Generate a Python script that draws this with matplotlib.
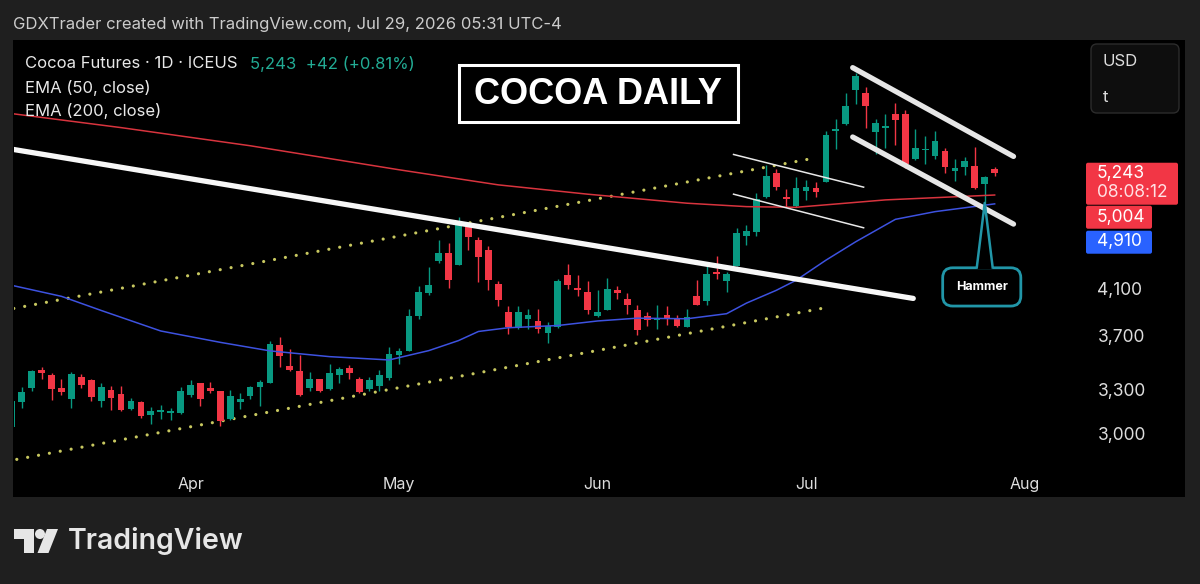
import numpy as np
import pandas as pd
import matplotlib
matplotlib.use("Agg")
import matplotlib.pyplot as plt
from matplotlib.patches import Rectangle, FancyBboxPatch, Polygon, Circle
from matplotlib.ticker import FixedLocator, NullLocator

plt.rcParams['font.family'] = ['Inter', 'DejaVu Sans']

# daily candles, trading day 0 = Mar 6 2026 ... 99 = Jul 29 2026
opens = [3045, 3209, 3308, 3442, 3406, 3310, 3233, 3386, 3367, 3221,
         3298, 3266, 3166, 3214, 3124, 3145, 3138, 3136, 3261, 3343,
         3307, 3286, 3096, 3214, 3255, 3320, 3346, 3631, 3473, 3435,
         3310, 3374, 3303, 3406, 3454, 3374, 3303, 3327, 3381, 3555,
         3586, 3860, 4056, 4343, 4415, 4309, 4668, 4544, 4447, 4139,
         3894, 3762, 3834, 3819, 3722, 3776, 4214, 4104, 4065, 3862,
         3908, 4080, 4001, 3914, 3862, 3825, 3872, 3839, 3776, 4030,
         3984, 4245, 4160, 4296, 4583, 4625, 4986, 5244, 4979, 4892,
         5052, 5077, 5143, 5745, 5831, 6260, 6229, 5727, 5782, 5954,
         5954, 5408, 5506, 5443, 5502, 5263, 5313, 5327, 5124, 5290]
highs = [3225, 3314, 3440, 3466, 3420, 3378, 3428, 3408, 3374, 3343,
         3327, 3322, 3240, 3221, 3179, 3195, 3168, 3320, 3367, 3343,
         3350, 3291, 3296, 3272, 3327, 3369, 3662, 3691, 3599, 3554,
         3422, 3374, 3484, 3464, 3479, 3386, 3391, 3440, 3611, 3607,
         3919, 4115, 4285, 4544, 4518, 4771, 4710, 4570, 4485, 4160,
         3943, 3943, 3919, 3919, 3809, 4184, 4321, 4214, 4163, 4086,
         4190, 4115, 4060, 3952, 3891, 3952, 3943, 3872, 3924, 4169,
         4321, 4390, 4245, 4659, 4692, 5031, 5337, 5293, 5066, 5205,
         5169, 5150, 5735, 5890, 6229, 6493, 6304, 5890, 5954, 6097,
         6009, 5768, 5683, 5735, 5533, 5404, 5427, 5540, 5214, 5311]
lows = [3040, 3168, 3286, 3374, 3226, 3261, 3168, 3310, 3221, 3181,
        3159, 3152, 3161, 3107, 3067, 3100, 3090, 3130, 3244, 3187,
        3272, 3052, 3090, 3163, 3233, 3187, 3346, 3459, 3430, 3251,
        3291, 3279, 3298, 3343, 3374, 3272, 3291, 3291, 3369, 3487,
        3580, 3835, 4037, 4326, 4104, 4309, 4447, 4154, 4086, 3949,
        3717, 3758, 3758, 3722, 3643, 3763, 4095, 4027, 3880, 3853,
        3908, 4007, 3880, 3709, 3781, 3758, 3789, 3776, 3768, 3952,
        3952, 4178, 4065, 4296, 4494, 4583, 4969, 5059, 4872, 4882,
        4952, 4979, 5143, 5522, 5819, 6087, 5777, 5463, 5533, 5574,
        5301, 5388, 5350, 5404, 5245, 5161, 5225, 5066, 4920, 5213]
closes = [3221, 3279, 3435, 3416, 3300, 3279, 3408, 3334, 3248, 3320,
          3242, 3161, 3221, 3117, 3154, 3157, 3150, 3286, 3334, 3233,
          3291, 3085, 3255, 3230, 3314, 3355, 3635, 3548, 3441, 3263,
          3378, 3291, 3416, 3447, 3418, 3284, 3369, 3403, 3561, 3580,
          3860, 4063, 4124, 4415, 4169, 4703, 4576, 4384, 4175, 3993,
          3776, 3894, 3872, 3758, 3781, 4160, 4124, 4086, 3908, 3891,
          4094, 4060, 3952, 3744, 3825, 3834, 3834, 3781, 3853, 3952,
          4221, 4225, 4225, 4616, 4632, 4959, 5214, 5095, 4959, 5077,
          5088, 5034, 5690, 5764, 6052, 6459, 6052, 5840, 5802, 5881,
          5347, 5534, 5522, 5614, 5319, 5301, 5377, 5084, 5201, 5243]

# EMA values at some candles
ema50_i = [0, 5, 9, 15, 21, 26, 32, 38, 42, 45, 47, 50, 55, 59, 63, 68, 72, 74, 77, 79, 82, 85, 89, 93, 99]
ema50_v = [4124, 4028, 3908, 3740, 3650, 3584, 3540, 3515, 3586, 3664, 3736, 3766, 3784, 3821, 3844,
           3839, 3881, 3970, 4080, 4169, 4352, 4527, 4750, 4829, 4910]
ema200_i = [0, 11, 24, 39, 49, 58, 68, 74, 79, 88, 99]
ema200_v = [5957, 5781, 5561, 5282, 5114, 5013, 4917, 4881, 4874, 4952, 5004]

# drawings: (start idx, start price, end idx, end price)
trend_main = (0, 5520, 90.8, 4010)
chan_dots = [(0.2, 3925, 80.9, 5417), (0.5, 2841, 81.9, 3930)]
flag_thin = [(72.7, 5458, 85.8, 5089), (72.7, 5013, 85.8, 4665)]
chan_down = [(84.7, 6573, 100.9, 5435), (84.7, 5666, 100.9, 4702)]

yticks = [3000, 3300, 3700, 4100]
month_names = ['Apr', 'May', 'Jun', 'Jul', 'Aug']
holidays = ['2026-04-03', '2026-05-25', '2026-06-19', '2026-07-03']

days = pd.bdate_range('2026-03-06', '2026-08-14')
days = days[~days.isin(pd.to_datetime(holidays))]
month_pos = [int(np.argmax(days.month == m)) for m in [4, 5, 6, 7, 8]]

W, H = 1200, 584
UP, DOWN = '#089981', '#f23645'

fig = plt.figure(figsize=(12, 5.84), dpi=100, facecolor='#1f1f1f')
bg = fig.add_axes([0, 0, 1, 1], zorder=0)
bg.set_xlim(0, W); bg.set_ylim(H, 0); bg.axis('off')
bg.add_patch(Rectangle((13, 40), 1172, 457, facecolor='black', edgecolor='none'))

ax = fig.add_axes([14 / W, 1 - 462 / H, (1085 - 14) / W, (462 - 40) / H], zorder=1)
ax.set_facecolor('black')
ax.set_yscale('log')
ax.set_xlim(0.22, 108.1)
ax.set_ylim(2825, 6974)
for s in ax.spines.values():
    s.set_visible(False)

x = np.arange(len(closes))
o = np.array(opens); c = np.array(closes)
colors = [UP if cc >= oo else DOWN for oo, cc in zip(o, c)]
ax.vlines(x, lows, highs, colors=colors, lw=1.0, zorder=3)
bot = np.minimum(o, c)
hgt = np.maximum(np.abs(c - o), bot * 0.0025)
ax.bar(x, hgt, bottom=bot, width=0.68, color=colors, lw=0, zorder=3)

ax.plot(ema200_i, ema200_v, color='#d8343e', lw=1.1, zorder=3.5)
ax.plot(ema50_i, ema50_v, color='#3d52e0', lw=1.1, zorder=3.5)

for x0, p0, x1, p1 in chan_dots:
    ax.plot([x0, x1], [p0, p1], color='#c8c860', lw=2.3, ls=(0, (0.01, 3.45)),
            dash_capstyle='round', zorder=2.5)
ax.plot(trend_main[::2], trend_main[1::2], color='#f7f7f7', lw=3.8,
        solid_capstyle='round', zorder=4)
for x0, p0, x1, p1 in flag_thin:
    ax.plot([x0, x1], [p0, p1], color='#e8e8e8', lw=1.1, zorder=4)
for x0, p0, x1, p1 in chan_down:
    ax.plot([x0, x1], [p0, p1], color='#e6e6e6', lw=3.8,
            solid_capstyle='round', zorder=4)

# hammer callout
TEAL = '#2196a8'
ax.text(97.7, 4110, 'Hammer', ha='center', va='center', fontsize=9, fontweight='bold',
        color='white', zorder=5,
        bbox=dict(boxstyle='round,pad=1.05,rounding_size=0.8', fc='black', ec=TEAL, lw=2))
ax.add_patch(Polygon([(97.2, 4270), (98, lows[98]), (98.8, 4270)], closed=True,
                     fc='black', ec='none', zorder=6))
ax.plot([97.2, 98, 98.8], [4285, lows[98], 4285], color=TEAL, lw=1.8, zorder=7)

ax.xaxis.set_major_locator(FixedLocator(month_pos))
ax.set_xticklabels(month_names)
ax.yaxis.set_major_locator(FixedLocator(yticks))
ax.yaxis.set_minor_locator(NullLocator())
ax.set_yticklabels([f'{v:,}' for v in yticks])
ax.tick_params(axis='x', length=0, colors='#dddddd', labelsize=11.5, pad=11)
ax.tick_params(axis='y', length=0, colors='#dddddd', labelsize=12.5, pad=9,
               left=False, labelleft=False, right=True, labelright=True)

# overlay: header, legend, title, price labels, logo
ov = fig.add_axes([0, 0, 1, 1], zorder=3)
ov.set_xlim(0, W); ov.set_ylim(H, 0); ov.axis('off')

ov.text(13, 24, 'GDXTrader created with TradingView.com, Jul 29, 2026 05:31 UTC-4',
        color='#cccccc', fontsize=12, va='center', ha='left')
ov.text(25, 64, 'Cocoa Futures · 1D · ICEUS', color='#e8e8e8', fontsize=12, va='center')
chg = closes[-1] - closes[-2]
ov.text(250, 64, f'{closes[-1]:,}  +{chg} (+{chg / closes[-2] * 100:.2f}%)',
        color='#22ab94', fontsize=12, va='center')
ov.text(25, 88, 'EMA (50, close)', color='#e8e8e8', fontsize=12, va='center')
ov.text(25, 111, 'EMA (200, close)', color='#e8e8e8', fontsize=12, va='center')

ov.add_patch(Rectangle((458.5, 64.5), 279.5, 57, fill=False, ec='white', lw=2.2))
ov.text(598, 94, 'COCOA DAILY', color='white', fontsize=26, fontweight='bold',
        family='Liberation Sans', ha='center', va='center')

ov.add_patch(FancyBboxPatch((1091, 44), 88, 69, boxstyle='round,pad=0,rounding_size=6',
                            fc='#0e0e0e', ec='#2c2c2c', lw=1))
ov.text(1103, 62, 'USD', color='#dddddd', fontsize=12, va='center')
ov.text(1103, 97, 't', color='#dddddd', fontsize=12, va='center')


def ypix(price):
    return H - ax.transData.transform((0, price))[1]


yl = ypix(closes[-1])
ov.add_patch(FancyBboxPatch((1086, yl - 10.5), 92, 42, boxstyle='round,pad=0,rounding_size=2',
                            fc=DOWN, ec='none'))
ov.text(1097, yl, f'{closes[-1]:,}', color='white', fontsize=12.5, va='center')
ov.text(1097, yl + 19.5, '08:08:12', color='#ffe1e4', fontsize=12.5, va='center')
ov.add_patch(FancyBboxPatch((1086, yl + 32.5), 66, 23, boxstyle='round,pad=0,rounding_size=2',
                            fc=DOWN, ec='none'))
ov.text(1097, yl + 44, f'{ema200_v[-1]:,}', color='white', fontsize=12.5, va='center')
ov.add_patch(FancyBboxPatch((1086, yl + 57.5), 66, 23, boxstyle='round,pad=0,rounding_size=2',
                            fc='#2962ff', ec='none'))
ov.text(1097, yl + 68, f'{ema50_v[-1]:,}', color='white', fontsize=12.5, va='center')

# TradingView logo
LG = '#e6e6e6'
ov.add_patch(Polygon([(14, 529), (34, 529), (34, 553), (24, 553), (24, 539), (14, 539)],
                     closed=True, fc=LG, ec='none'))
ov.add_patch(Circle((40, 534), 5, fc=LG, ec='none'))
ov.add_patch(Polygon([(47, 529), (58, 529), (48.5, 553), (37.5, 553)], closed=True, fc=LG, ec='none'))
ov.text(68, 541, 'TradingView', color=LG, fontsize=20.5, fontweight='semibold', va='center')

fig.savefig('out.png', dpi=100, facecolor=fig.get_facecolor())
